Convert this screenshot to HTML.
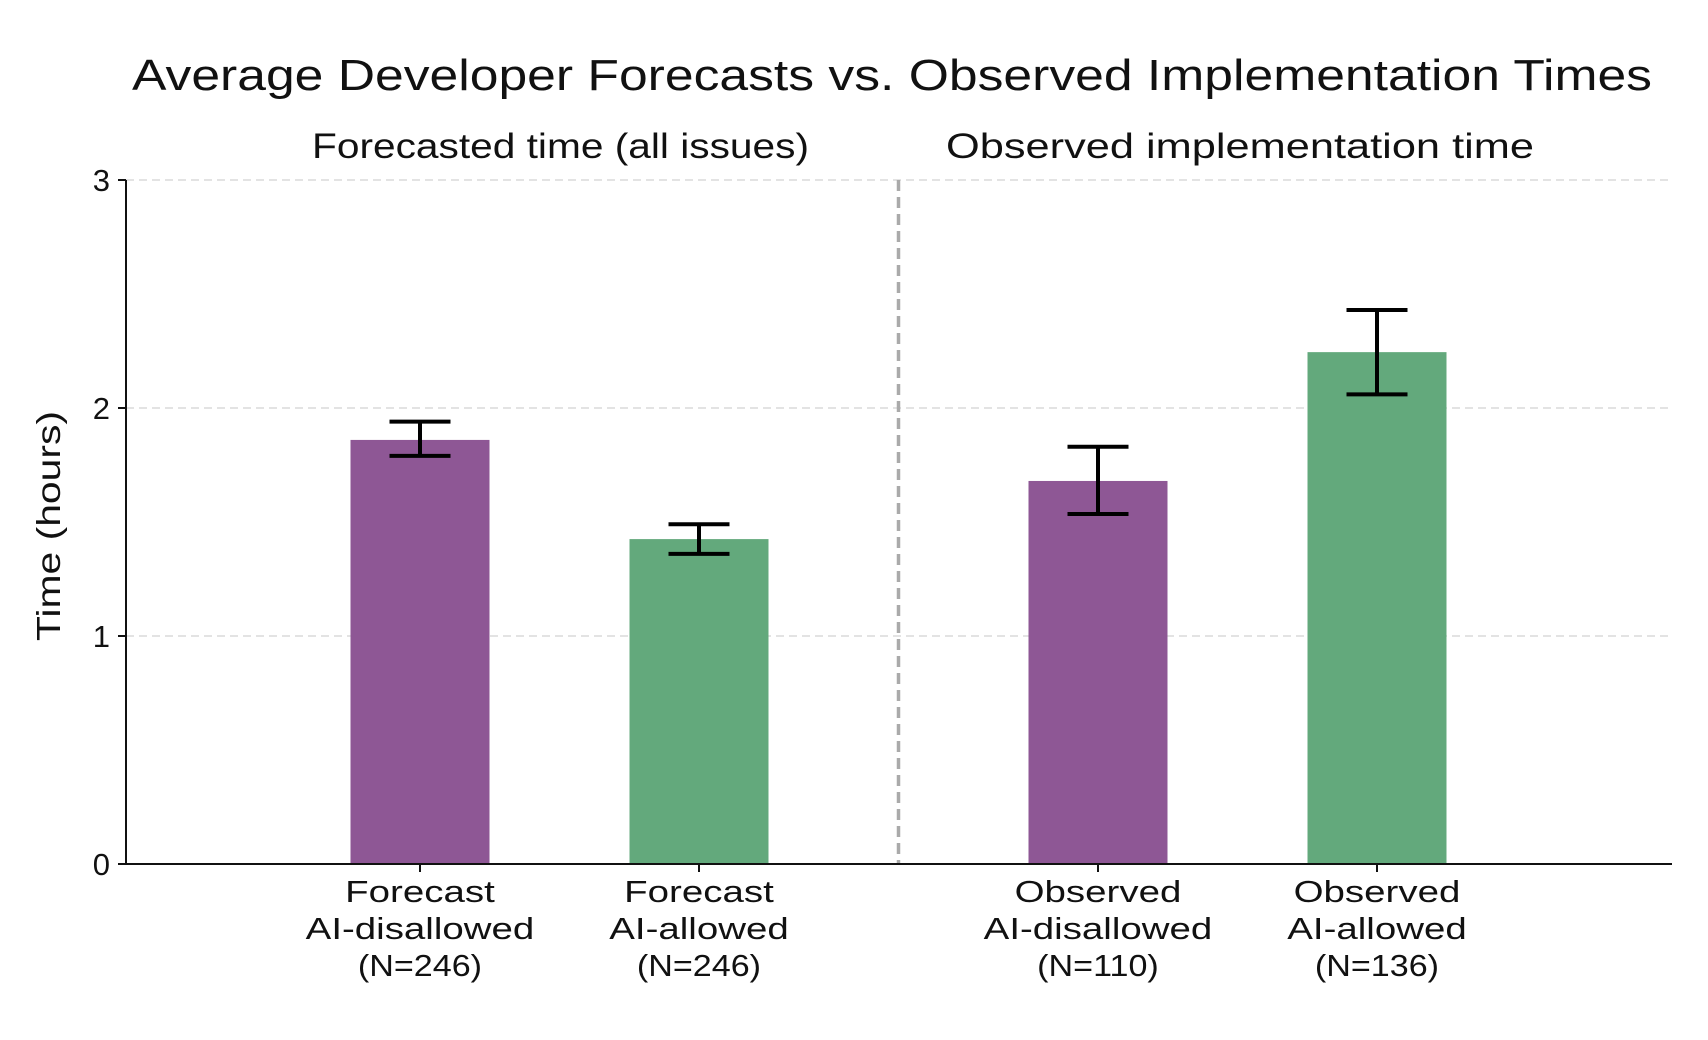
<!DOCTYPE html>
<html><head><meta charset="utf-8"><style>
html,body{margin:0;padding:0;background:#fff;}
svg{display:block;font-family:"Liberation Sans",sans-serif;}
</style></head><body>
<svg id="chart" width="1708" height="1040" viewBox="0 0 1708 1040">
<text x="132" y="90" font-size="44" textLength="1520" lengthAdjust="spacingAndGlyphs" fill="#111">Average Developer Forecasts vs. Observed Implementation Times</text>
<text x="312" y="158" font-size="35" textLength="497" lengthAdjust="spacingAndGlyphs" fill="#111">Forecasted time (all issues)</text>
<text x="946" y="158" font-size="35" textLength="588" lengthAdjust="spacingAndGlyphs" fill="#111">Observed implementation time</text>
<text id="ylab" transform="translate(60,526) rotate(-90)" text-anchor="middle" font-size="33" textLength="230" lengthAdjust="spacingAndGlyphs" fill="#111">Time (hours)</text>
<g id="grid"></g><g id="bars"></g><g id="axes"></g>
</svg>
<script>
const categories = ["Forecast|AI-disallowed|(N=246)","Forecast|AI-allowed|(N=246)","Observed|AI-disallowed|(N=110)","Observed|AI-allowed|(N=136)"];
const groups = [0,0,1,1];
const values = [1.86,1.425,1.68,2.245];
const errLow = [1.79,1.36,1.535,2.06];
const errHigh = [1.94,1.49,1.83,2.43];
const yTicks = [0,1,2,3];
const colors = ["#8e5795","#63a97c","#8e5795","#63a97c"];

const NS="http://www.w3.org/2000/svg";
const x0=126,x1=1672,y0=864,pxPerUnit=228;
const yScale=v=>y0-v*pxPerUnit;
const xScale=i=>420+i*279+groups[i]*120;
const bw=139,cap=61;
function mk(t,a,p){const e=document.createElementNS(NS,t);for(const k in a)e.setAttribute(k,a[k]);p.appendChild(e);return e;}
const grid=document.getElementById('grid'),bars=document.getElementById('bars'),axes=document.getElementById('axes');
yTicks.forEach(v=>{
  if(v>0){const g=mk('line',{x1:x0,x2:x1,y1:yScale(v),y2:yScale(v),stroke:'#e3e3e3','stroke-width':2,'stroke-dasharray':'8,5'},grid);
  
  }
  const t=mk('line',{x1:x0-8,x2:x0,y1:yScale(v),y2:yScale(v),stroke:'#111','stroke-width':2},axes);
  
  
  const l=mk('text',{x:x0-16,y:yScale(v)+11,'text-anchor':'end','font-size':31,fill:'#111'},axes);
  l.textContent=v;
  
  
});
const sep=mk('line',{x1:(xScale(1)+xScale(2))/2,x2:(xScale(1)+xScale(2))/2,y1:yScale(3),y2:y0,stroke:'#aaa','stroke-width':3.5,'stroke-dasharray':'11,6'},grid);


values.forEach((v,i)=>{
  const cx=xScale(i);
  const r=mk('rect',{x:cx-bw/2,y:yScale(v),width:bw,height:y0-yScale(v),fill:colors[i]},bars);
  
  
  const eg=mk('g',{stroke:'#000','stroke-width':4},bars);
  
  
  mk('line',{x1:cx,x2:cx,y1:yScale(errLow[i]),y2:yScale(errHigh[i])},eg);
  mk('line',{x1:cx-cap/2,x2:cx+cap/2,y1:yScale(errLow[i]),y2:yScale(errLow[i])},eg);
  mk('line',{x1:cx-cap/2,x2:cx+cap/2,y1:yScale(errHigh[i]),y2:yScale(errHigh[i])},eg);
  const t=mk('line',{x1:cx,x2:cx,y1:y0,y2:y0+8,stroke:'#111','stroke-width':2},axes);
  
  
  categories[i].split('|').forEach((s,j)=>{
    const lab=mk('text',{x:cx,y:902+j*37,'text-anchor':'middle','font-size':31,fill:'#111'},axes);
    lab.textContent=s;
    
    
    const w=lab.getComputedTextLength();
    lab.setAttribute('textLength',(w*(j==2?1.1:1.24)).toFixed(1));
    lab.setAttribute('lengthAdjust','spacingAndGlyphs');
  });
});
const ya=mk('line',{x1:x0,x2:x0,y1:yScale(3),y2:y0+1,stroke:'#111','stroke-width':2},axes);


const xa=mk('line',{x1:x0-1,x2:x1,y1:y0,y2:y0,stroke:'#111','stroke-width':2},axes);


</script>
</body></html>
